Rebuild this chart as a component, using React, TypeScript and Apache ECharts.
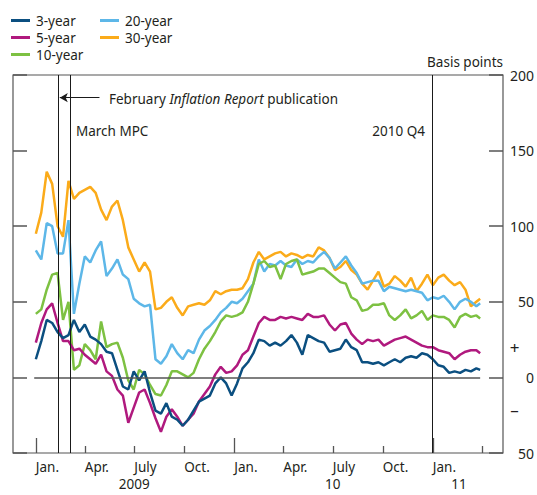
import React, { useEffect, useRef } from "react";
import * as echarts from "echarts";

// Sampling dates (every ten days)
const dates = [
  "2009-01-01","2009-01-11","2009-01-21","2009-01-31","2009-02-10","2009-02-20","2009-03-02","2009-03-12","2009-03-22","2009-04-01",
  "2009-04-11","2009-04-21","2009-05-01","2009-05-11","2009-05-21","2009-05-31","2009-06-10","2009-06-20","2009-06-30","2009-07-10",
  "2009-07-20","2009-07-30","2009-08-09","2009-08-19","2009-08-29","2009-09-08","2009-09-18","2009-09-28","2009-10-08","2009-10-18",
  "2009-10-28","2009-11-07","2009-11-17","2009-11-27","2009-12-07","2009-12-17","2009-12-27","2010-01-06","2010-01-16","2010-01-26",
  "2010-02-05","2010-02-15","2010-02-25","2010-03-07","2010-03-17","2010-03-27","2010-04-06","2010-04-16","2010-04-26","2010-05-06",
  "2010-05-16","2010-05-26","2010-06-05","2010-06-15","2010-06-25","2010-07-05","2010-07-15","2010-07-25","2010-08-04","2010-08-14",
  "2010-08-24","2010-09-03","2010-09-13","2010-09-23","2010-10-03","2010-10-13","2010-10-23","2010-11-02","2010-11-12","2010-11-22",
  "2010-12-02","2010-12-12","2010-12-22","2011-01-01","2011-01-11","2011-01-21","2011-01-31","2011-02-10","2011-02-20","2011-03-02",
  "2011-03-12","2011-03-22","2011-03-29",
];

// Basis points
const threeYear = [
  12, 24, 38, 36, 30, 26, 28, 38, 30, 35,
  27, 25, 22, 17, 16, 5, -6, -8, 4, -2,
  4, -10, -22, -24, -17, -26, -28, -32, -28, -22,
  -16, -14, -12, -4, 0, -4, -12, -4, 6, 10,
  16, 25, 24, 21, 23, 21, 24, 28, 23, 15,
  28, 26, 24, 23, 17, 18, 19, 25, 20, 18,
  10, 10, 9, 10, 8, 10, 12, 10, 13, 14,
  13, 16, 15, 12, 8, 7, 3, 4, 3, 5,
  4, 6, 5,
];
const fiveYear = [
  23, 36, 45, 49, 36, 24, 24, 18, 19, 15,
  12, 9, 15, 4, 1, -8, -12, -30, -20, -10,
  -8, -17, -27, -36, -26, -21, -26, -32, -28, -24,
  -16, -11, -6, 2, 7, 3, 4, 8, 15, 18,
  27, 36, 40, 38, 38, 40, 39, 40, 39, 38,
  42, 40, 40, 41, 35, 31, 35, 36, 29, 25,
  22, 25, 24, 25, 21, 23, 25, 26, 27, 25,
  23, 21, 20, 20, 18, 17, 16, 12, 15, 17,
  18, 18, 16,
];
const tenYear = [
  42, 45, 58, 68, 69, 38, 50, 5, 8, 22,
  18, 12, 37, 20, 22, 23, 13, -2, -8, 5,
  2, -5, -11, -12, -5, 4, 4, 2, 0, 3,
  12, 19, 24, 30, 37, 41, 40, 41, 43, 50,
  62, 75, 77, 73, 74, 65, 75, 77, 78, 68,
  69, 70, 72, 72, 69, 66, 63, 62, 53, 51,
  44, 45, 48, 48, 49, 41, 38, 41, 45, 39,
  41, 44, 38, 41, 40, 40, 38, 33, 40, 42,
  40, 41, 39,
];
const twentyYear = [
  84, 78, 102, 100, 82, 82, 104, 42, 62, 80,
  76, 84, 90, 67, 72, 78, 68, 65, 52, 49,
  47, 48, 12, 9, 14, 22, 16, 12, 18, 16,
  25, 31, 34, 38, 43, 46, 50, 49, 52, 57,
  62, 78, 70, 75, 74, 77, 74, 73, 78, 75,
  77, 76, 80, 83, 79, 72, 76, 80, 74, 69,
  62, 63, 64, 64, 57, 60, 59, 58, 57, 58,
  57, 56, 51, 53, 52, 54, 50, 45, 50, 52,
  50, 47, 49,
];
const thirtyYear = [
  95, 109, 136, 128, 100, 93, 130, 118, 122, 124,
  126, 122, 111, 104, 113, 117, 104, 86, 78, 70,
  76, 70, 45, 46, 50, 53, 46, 41, 47, 48,
  49, 48, 51, 57, 55, 57, 58, 58, 59, 65,
  76, 83, 78, 80, 82, 83, 80, 82, 81, 79,
  81, 80, 86, 84, 79, 71, 73, 77, 71, 68,
  62, 58, 64, 70, 60, 62, 67, 64, 60, 66,
  57, 62, 68, 61, 66, 68, 64, 61, 63, 58,
  47, 50, 52,
];

const seriesNames = ["3-year", "5-year", "10-year", "20-year", "30-year"];
const seriesColors = ["#0b4f80", "#b0197e", "#7dc142", "#5db7e8", "#fbab1a"];

const quarterTicks = ["2009-04-01", "2009-07-01", "2009-10-01", "2010-04-01", "2010-07-01", "2010-10-01", "2011-04-01"];
const yearTicks = ["2009-01-01", "2010-01-01", "2011-01-01"];
const monthLabelDates = ["2009-01-01", "2009-04-01", "2009-07-01", "2009-10-01", "2010-01-01", "2010-04-01", "2010-07-01", "2010-10-01", "2011-01-01"];
const monthNames: Record<number, string> = { 0: "Jan.", 3: "Apr.", 6: "July", 9: "Oct." };
const yearLabelDates = ["2009-07-01", "2010-07-01", "2011-02-18"];
const yearLabels: Record<number, string> = { 2009: "2009", 2010: "10", 2011: "11" };
const eventDates = ["2009-02-11", "2009-03-05", "2010-12-31"];

const t = (s: string) => {
  const [y, m, d] = s.split("-").map(Number);
  return Date.UTC(y, m - 1, d);
};

const FONT = "'Noto Sans', sans-serif";
const TXT = "#231f20";
const AX = "#555555";
const Y_MIN = -50;
const Y_MAX = 200;
const PLOT_H = 378; // grid height in px
const pxToVal = (px: number) => (px * (Y_MAX - Y_MIN)) / PLOT_H;

export default function App() {
  const ref = useRef<HTMLDivElement>(null);
  useEffect(() => {
    if (!ref.current) return;
    const chart = echarts.init(ref.current, null, { renderer: "svg" });
    const valueSets = [threeYear, fiveYear, tenYear, twentyYear, thirtyYear];
    const order = [4, 3, 2, 1, 0];
    const series: any[] = order.map((i) => ({
      name: seriesNames[i],
      type: "line",
      xAxisIndex: 0,
      yAxisIndex: 0,
      showSymbol: false,
      symbol: "none",
      color: seriesColors[i],
      lineStyle: { width: 2.5, color: seriesColors[i] },
      data: dates.map((d, k) => [t(d), valueSets[i][k]]),
    }));
    const tickStyle = { color: AX, width: 1.3, type: "solid" };
    const tickSeg = (d: string, lenPx: number) => [
      { coord: [t(d), Y_MIN], lineStyle: tickStyle },
      { coord: [t(d), Y_MIN + pxToVal(lenPx)] },
    ];
    series[series.length - 1].markLine = {
      silent: true,
      symbol: ["none", "none"],
      label: { show: false },
      data: [
        [
          { coord: [t("2008-12-29"), 0], lineStyle: { color: AX, width: 1.6, type: "solid" } },
          { coord: [t("2011-03-29"), 0] },
        ],
        ...quarterTicks.map((d) => tickSeg(d, 7)),
        ...yearTicks.map((d) => tickSeg(d, 15)),
        ...eventDates.map((d) => ({ xAxis: t(d), lineStyle: { color: "#1a1a1a", width: 1, type: "solid" } })),
        [
          { coord: [t("2009-04-28"), 185], symbol: "none", lineStyle: { color: "#1a1a1a", width: 1, type: "solid" } },
          { coord: [t("2009-02-14"), 185], symbol: "arrow", symbolSize: [7, 8] },
        ],
      ],
    };

    const xBase = {
      type: "value",
      min: t("2008-11-20"),
      max: t("2011-05-10"),
      position: "bottom",
      axisLine: { show: false },
      axisTick: { show: false },
      splitLine: { show: false },
    };

    const legendBase = {
      orient: "vertical",
      top: 12,
      padding: 0,
      itemGap: 0,
      itemWidth: 19,
      itemHeight: 3,
      icon: "rect",
      selectedMode: false,
      textStyle: { fontFamily: FONT, fontSize: 13.5, color: TXT, lineHeight: 17, padding: [0, 0, 0, 1] },
    };

    chart.setOption({
      animation: false,
      textStyle: { fontFamily: FONT, color: TXT },
      grid: { left: 13, right: 34, top: 75, bottom: 42, show: true, borderColor: AX, borderWidth: 1.2, containLabel: false },
      legend: [
        { ...legendBase, data: seriesNames.slice(0, 3), left: 11 },
        { ...legendBase, data: seriesNames.slice(3), left: 100 },
      ],
      xAxis: [
        {
          ...xBase,
          axisLabel: {
            show: true,
            customValues: monthLabelDates.map(t),
            formatter: (v: number) => monthNames[new Date(v).getUTCMonth()] || "",
            align: "left",
            margin: 7,
            fontSize: 13.5,
            fontFamily: FONT,
            color: TXT,
          },
        },
        {
          ...xBase,
          axisLabel: {
            show: true,
            customValues: yearLabelDates.map(t),
            formatter: (v: number) => yearLabels[new Date(v).getUTCFullYear()] || "",
            align: "center",
            margin: 24,
            fontSize: 13.5,
            fontFamily: FONT,
            color: TXT,
          },
        },
      ],
      yAxis: [
        {
          type: "value",
          position: "right",
          min: Y_MIN,
          max: Y_MAX,
          interval: 50,
          axisLine: { show: false },
          splitLine: { show: false },
          axisTick: { show: true, inside: true, length: 14, lineStyle: { color: AX, width: 1.5 } },
          axisLabel: {
            formatter: (v: number) => String(Math.abs(v)),
            align: "right",
            margin: 31,
            fontSize: 14,
            fontFamily: FONT,
            color: TXT,
          },
        },
        {
          type: "value",
          position: "left",
          min: Y_MIN,
          max: Y_MAX,
          interval: 50,
          axisLine: { show: false },
          splitLine: { show: false },
          axisTick: { show: true, inside: true, length: 14, lineStyle: { color: AX, width: 1.5 } },
          axisLabel: { show: false },
        },
      ],
      graphic: [
        {
          type: "text",
          x: 109,
          y: 99,
          style: {
            text: "{a|February }{i|Inflation Report}{a| publication}",
            rich: {
              a: { fontFamily: FONT, fontSize: 13.5, fill: TXT, color: TXT },
              i: { fontFamily: FONT, fontSize: 13.5, fontStyle: "italic", fill: TXT, color: TXT },
            },
            verticalAlign: "middle",
          },
        },
        { type: "text", x: 76, y: 131, style: { text: "March MPC", fontFamily: FONT, fontSize: 13.5, fill: TXT, verticalAlign: "middle" } },
        { type: "text", x: 425, y: 131, style: { text: "2010 Q4", fontFamily: FONT, fontSize: 13.5, fill: TXT, align: "right", verticalAlign: "middle" } },
        { type: "text", x: 503, y: 62, style: { text: "Basis points", fontFamily: FONT, fontSize: 13.5, fill: TXT, align: "right", verticalAlign: "middle" } },
        { type: "text", x: 514.5, y: 347, style: { text: "+", fontFamily: FONT, fontSize: 17, fill: TXT, align: "center", verticalAlign: "middle" } },
        { type: "text", x: 514.5, y: 409, style: { text: "\u2013", fontFamily: FONT, fontSize: 17, fill: TXT, align: "center", verticalAlign: "middle" } },
      ],
      series,
    });
    return () => chart.dispose();
  }, []);
  return <div ref={ref} style={{ position: "absolute", left: 0, top: 0, width: 537, height: 495, background: "#fff" }} />;
}
